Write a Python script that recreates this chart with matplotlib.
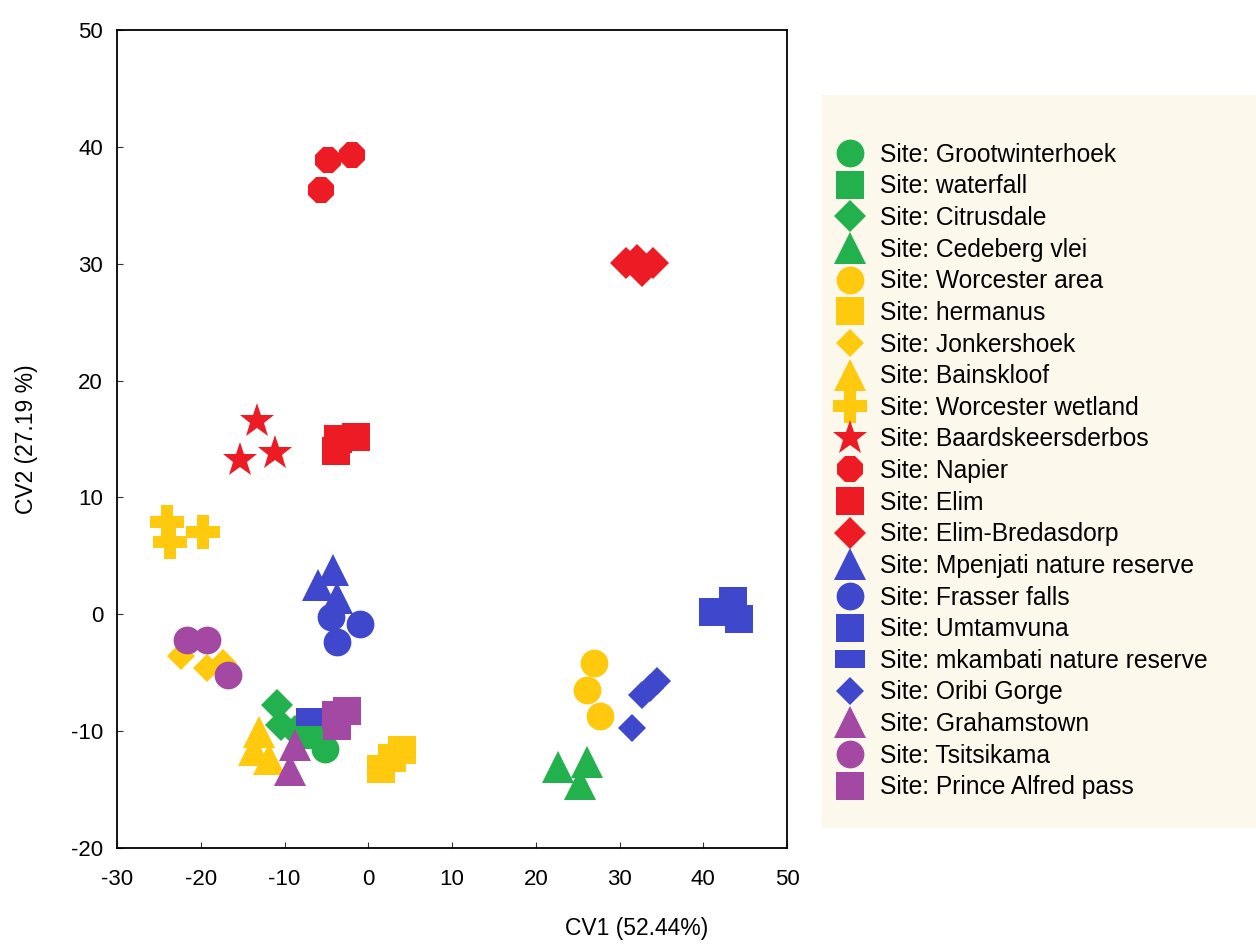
import matplotlib.pyplot as plt
from matplotlib.lines import Line2D
from matplotlib.patches import Rectangle

plt.rcParams["font.family"] = ["Liberation Sans", "DejaVu Sans"]
plt.rcParams["axes.unicode_minus"] = False

sites = [
    "Grootwinterhoek", "waterfall", "Citrusdale", "Cedeberg vlei",
    "Worcester area", "hermanus", "Jonkershoek", "Bainskloof",
    "Worcester wetland", "Baardskeersderbos", "Napier", "Elim",
    "Elim-Bredasdorp", "Mpenjati nature reserve", "Frasser falls",
    "Umtamvuna", "mkambati nature reserve", "Oribi Gorge",
    "Grahamstown", "Tsitsikama", "Prince Alfred pass",
]

# CV1 / CV2 scores per site
cv1 = [
    [-5.2, -5.6],
    [-7.6],
    [-10.9, -10.4, -8.8],
    [22.7, 26.1, 25.3],
    [26.9, 26.1, 27.7],
    [1.5, 2.8, 4.0],
    [-22.4, -19.2, -17.4],
    [-13.1, -13.7, -11.9],
    [-24.0, -23.7, -19.7],
    [-13.3, -15.3, -11.1],
    [-4.8, -1.9, -5.6],
    [-3.9, -3.6, -1.5],
    [30.8, 32.1, 32.7, 34.0],
    [-4.2, -6.0, -3.7],
    [-4.5, -1.0, -3.7],
    [41.2, 43.5, 44.3],
    [-6.8],
    [31.5, 32.7, 33.6, 34.5],
    [-8.7, -9.3],
    [-21.6, -19.2, -16.7],
    [-3.9, -3.7, -2.5],
]
cv2 = [
    [-11.5, -10.2],
    [-10.3],
    [-7.8, -9.5, -10.0],
    [-13.1, -12.6, -14.5],
    [-4.2, -6.5, -8.7],
    [-13.2, -12.3, -11.6],
    [-3.6, -4.6, -4.2],
    [-10.1, -11.6, -12.4],
    [7.9, 6.2, 7.0],
    [16.5, 13.2, 13.8],
    [38.9, 39.3, 36.3],
    [14.0, 15.0, 15.2],
    [30.1, 30.3, 29.4, 30.1],
    [3.8, 2.5, 1.4],
    [-0.2, -0.8, -2.4],
    [0.2, 1.1, -0.4],
    [-8.8],
    [-9.7, -6.9, -6.3, -5.7],
    [-11.2, -13.3],
    [-2.2, -2.2, -5.2],
    [-8.6, -9.6, -8.3],
]

green = "#22b14c"
yellow = "#ffc90e"
red = "#ed1c24"
blue = "#3f48cc"
purple = "#a349a4"
wide_rect = [(-1.4, -0.8), (1.4, -0.8), (1.4, 0.8), (-1.4, 0.8), (-1.4, -0.8)]

colors = [green] * 4 + [yellow] * 5 + [red] * 4 + [blue] * 5 + [purple] * 3
markers = ["o", "s", "D", "^", "o", "s", "D", "^", "P", "*", "8", "s", "D",
           "^", "o", "s", wide_rect, "D", "^", "o", "s"]
msizes = [20, 19.5, 16, 23.5, 20, 19.5, 14.5, 23.5, 24, 26, 20.5, 19.5, 16,
          23.5, 20, 19.5, 22, 14.5, 23.5, 20, 19.5]

fig = plt.figure(figsize=(12.56, 9.47), dpi=100)
fig.patch.set_facecolor("white")
fig.patches.append(Rectangle((822 / 1256, 1 - 828 / 947), 434 / 1256, 733 / 947,
                             transform=fig.transFigure, facecolor="#fdf8ec",
                             edgecolor="none", zorder=0))
ax = fig.add_axes([117 / 1256, 1 - 848 / 947, 670 / 1256, 818 / 947])
ax.set_facecolor("white")

handles = []
for i, name in enumerate(sites):
    ax.plot(cv1[i], cv2[i], linestyle="none", marker=markers[i],
            markersize=msizes[i], color=colors[i], markeredgewidth=0)
    handles.append(Line2D([], [], linestyle="none", marker=markers[i],
                          markersize=msizes[i], color=colors[i],
                          markeredgewidth=0, label="Site: " + name))

ax.set_xlim(-30, 50)
ax.set_ylim(-20, 50)
ax.set_xticks(range(-30, 51, 10))
ax.set_yticks(range(-20, 51, 10))
ax.tick_params(direction="in", length=4, labelsize=16, color="#333333")
ax.tick_params(axis="x", pad=15)
ax.tick_params(axis="y", pad=10)
for s in ax.spines.values():
    s.set_linewidth(1.3)
    s.set_color("black")

ax.set_xlabel("CV1 (52.44%)", fontsize=16.5)
ax.xaxis.set_label_coords(0.776, -0.084)
ax.set_ylabel("CV2 (27.19 %)", fontsize=16.5)
ax.yaxis.set_label_coords(-0.118, 0.5)

fig.legend(handles=handles, loc="upper left",
           bbox_to_anchor=(822 / 1256, 1 - 133 / 947),
           frameon=False, fontsize=17.7, handlelength=1.5,
           handletextpad=0.44, labelspacing=0.31, borderaxespad=0)

plt.savefig("out.png", dpi=100)
